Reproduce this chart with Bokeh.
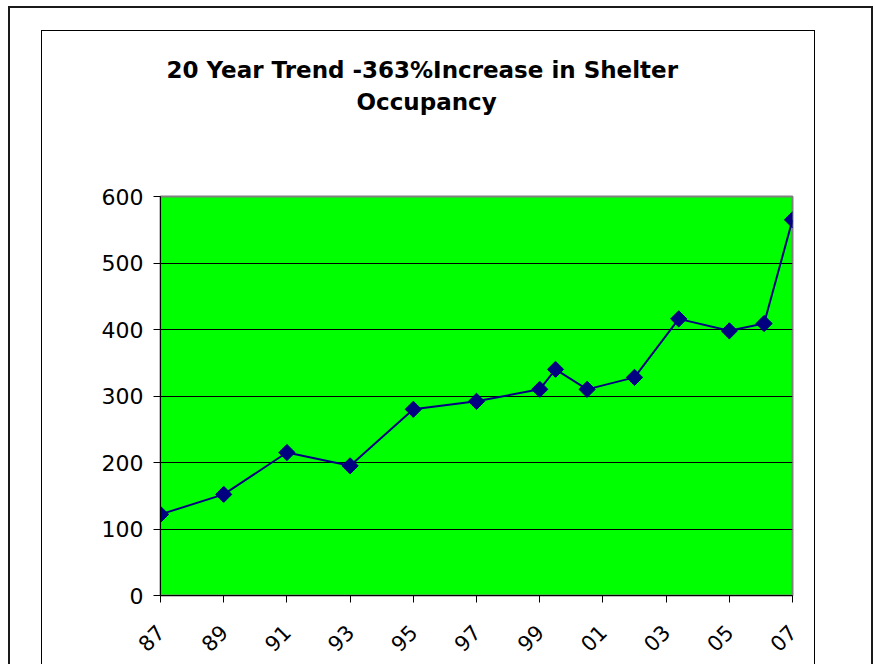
import math
from bokeh.plotting import figure
from bokeh.models import FixedTicker, Title, Range1d, InlineStyleSheet
from bokeh.embed import file_html
from bokeh.resources import INLINE

# ---- data ----
years = [1987, 1989, 1991, 1993, 1995, 1997, 1999, 1999.5, 2000.5, 2002, 2003.4, 2005, 2006.1, 2007]
occupancy = [122, 152, 215, 195, 280, 292, 310, 340, 310, 328, 416, 398, 409, 565]
tick_years = [1987, 1989, 1991, 1993, 1995, 1997, 1999, 2001, 2003, 2005, 2007]
tick_labels = ["87", "89", "91", "93", "95", "97", "99", "01", "03", "05", "07"]
y_ticks = [0, 100, 200, 300, 400, 500, 600]
title_lines = ["20 Year Trend -363%Increase in Shelter", "Occupancy"]

FONT = "DejaVu Sans"

p = figure(width=875, height=664, output_backend="svg", toolbar_location=None,
           x_range=Range1d(1987, 2007), y_range=Range1d(0, 600),
           min_border_left=160, min_border_right=83, min_border_top=196, min_border_bottom=69)

p.background_fill_color = "#00FF00"
p.border_fill_color = "white"
p.outline_line_color = "#808080"
p.outline_line_width = 2

p.xgrid.visible = False
p.ygrid.ticker = FixedTicker(ticks=y_ticks)
p.ygrid.grid_line_color = "black"
p.ygrid.grid_line_width = 1

p.yaxis.ticker = FixedTicker(ticks=y_ticks)
p.yaxis.major_tick_in = 0
p.yaxis.major_tick_out = 7
p.yaxis.minor_tick_line_color = None
p.yaxis.axis_line_color = "black"
p.yaxis.major_label_standoff = 10
p.yaxis.major_label_text_font = FONT
p.yaxis.major_label_text_font_size = "22px"
p.yaxis.major_label_text_color = "black"

p.xaxis.ticker = FixedTicker(ticks=tick_years)
p.xaxis.major_label_overrides = {y: l for y, l in zip(tick_years, tick_labels)}
p.xaxis.major_tick_in = 0
p.xaxis.major_tick_out = 7
p.xaxis.minor_tick_line_color = None
p.xaxis.axis_line_color = "black"
p.xaxis.major_label_orientation = math.pi / 4
p.xaxis.major_label_standoff = 26
p.xaxis.major_label_text_font = FONT
p.xaxis.major_label_text_font_size = "21px"
p.xaxis.major_label_text_color = "black"

p.line(years, occupancy, line_color="#000080", line_width=2)
p.scatter(years, occupancy, marker="square", size=11.5, angle=math.pi / 4,
          fill_color="#000080", line_color="#000080")

# title lines stacked upward; blank trailing lines leave the gap above the plot area
p.title.text = ""
p.add_layout(Title(text=title_lines[1] + "\n\n\n", align="left", offset=196, standoff=8,
                   text_font=FONT, text_font_size="23px", text_font_style="bold",
                   text_color="black"), "above")
p.add_layout(Title(text=title_lines[0], align="left", offset=6, standoff=0,
                   text_font=FONT, text_font_size="23px", text_font_style="bold",
                   text_color="black"), "above")

# chart-area borders (decorative frame lines of the original sheet)
p.stylesheets = [InlineStyleSheet(css="""
:host { position: relative; overflow: hidden; }
:host::before { content: ""; position: absolute; left: 8px; top: 6px; width: 861px; height: 700px;
  border: 2px solid #1a1a1a; pointer-events: none; z-index: 10; }
:host::after { content: ""; position: absolute; left: 41px; top: 30px; width: 772px; height: 700px;
  border: 1px solid #000; pointer-events: none; z-index: 10; }
""")]

open("out.html", "w").write(file_html(p, INLINE))
